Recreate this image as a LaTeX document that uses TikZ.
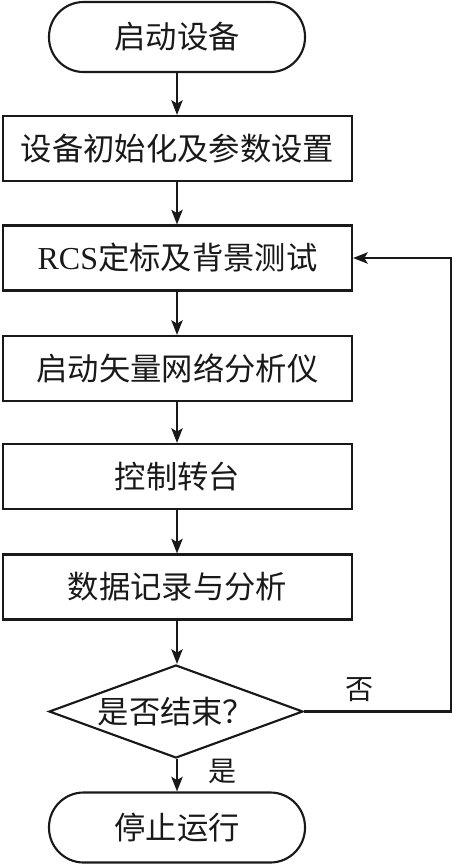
\documentclass[tikz,border=0pt]{standalone}
\usepackage{fontspec}
\setmainfont{Liberation Serif}
\newfontfamily\cjk{Noto Sans CJK SC}
\usetikzlibrary{shapes.geometric,arrows.meta}
\begin{document}
\begin{tikzpicture}[x=0.75pt,y=-0.75pt,
  base/.style={draw=black!90, line width=1.6pt, inner sep=0pt, font=\cjk\fontsize{23.5}{25}\selectfont, text=black!90},
  term/.style={base, rectangle, rounded corners=26pt, minimum width=192pt, minimum height=52.5pt},
  procbox/.style={base, rectangle, minimum width=261.75pt, minimum height=48.75pt},
  decbox/.style={base, diamond, aspect=2.73, minimum width=190.5pt, minimum height=69.75pt},
  flow/.style={draw=black!90, line width=1.6pt, -{Stealth[length=11pt,width=8.5pt,inset=2.5pt]}},
  lab/.style={font=\cjk\fontsize{21}{23}\selectfont, text=black!90, inner sep=0pt}
]
\useasboundingbox (0,0) rectangle (453,865);
\node[term] (start) at (177,37) {启动设备};
\node[procbox] (r1) at (177.5,148.5) {设备初始化及参数设置};
\node[procbox] (r2) at (177.5,258) {{\rmfamily\fontsize{24}{25}\selectfont RCS}定标及背景测试};
\node[procbox] (r3) at (177.5,368.5) {启动矢量网络分析仪};
\node[procbox] (r4) at (177.5,476.5) {控制转台};
\node[procbox] (r5) at (177.5,587) {数据记录与分析};
\node[decbox] (dec) at (176,711.5) {是否结束？};
\node[term] (stop) at (177,827.5) {停止运行};
\coordinate (c1) at (451,711.5);
\coordinate (c2) at (451,258);
\draw[flow] (start.south -| 177,0) -- (r1.north -| 177,0);
\draw[flow] (r1.south -| 177,0) -- (r2.north -| 177,0);
\draw[flow] (r2.south -| 177,0) -- (r3.north -| 177,0);
\draw[flow] (r3.south -| 177,0) -- (r4.north -| 177,0);
\draw[flow] (r4.south -| 177,0) -- (r5.north -| 177,0);
\draw[flow] (r5.south -| 177,0) -- (dec.north -| 177,0);
\draw[flow] (dec.south -| 177,0) -- (stop.north -| 177,0);
\draw[flow] (dec.east) -- (c1) -- (c2) -- (r2.east);
\node[lab] (no) at (359,690) {否};
\node[lab] (yes) at (222,771) {是};
\end{tikzpicture}
\end{document}
